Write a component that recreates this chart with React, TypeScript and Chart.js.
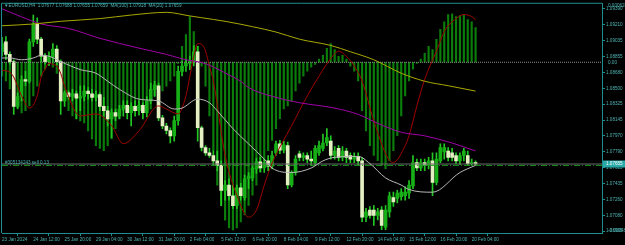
import React, { useEffect, useRef } from 'react';
import { Chart, registerables } from 'chart.js';
Chart.register(...registerables);

const titleText = '\u25BCEURUSD,H4  1.07677 1.07688 1.07655 1.07659  MA(100) 1.07918  MA(20) 1.07659';
const orderText = '#305134243 sell 0.13';

const timeLabels = ['23 Jan 2024', '24 Jan 12:00', '25 Jan 20:00', '29 Jan 04:00', '30 Jan 12:00', '31 Jan 20:00', '2 Feb 04:00', '5 Feb 12:00', '6 Feb 20:00', '8 Feb 04:00', '9 Feb 12:00', '12 Feb 20:00', '14 Feb 04:00', '15 Feb 12:00', '16 Feb 20:00', '20 Feb 04:00'];
const timeTickIdx = [0, 8, 16, 24, 32, 40, 48, 56, 64, 72, 80, 88, 96, 104, 112, 120];
const priceTicks = [1.0939, 1.0921, 1.09035, 1.08855, 1.0868, 1.085, 1.08325, 1.08145, 1.0797, 1.0779, 1.07615, 1.07435, 1.0726, 1.0708, 1.06905];

const opens = [1.0891, 1.0902, 1.0888, 1.0880, 1.0830, 1.0841, 1.0860, 1.0858, 1.0902, 1.0922,
  1.0905, 1.0886, 1.0880, 1.0885, 1.0894, 1.0880, 1.0836, 1.0845, 1.0841, 1.0844,
  1.0839, 1.0841, 1.0847, 1.0844, 1.0840, 1.0843, 1.0830, 1.0825, 1.0816, 1.0823,
  1.0819, 1.0827, 1.0831, 1.0823, 1.0830, 1.0825, 1.0831, 1.0823, 1.0836, 1.0849,
  1.0853, 1.0817, 1.0808, 1.0803, 1.0797, 1.0814, 1.0869, 1.0875, 1.0878, 1.0880,
  1.0891, 1.0806, 1.0784, 1.0778, 1.0775, 1.0769, 1.0764, 1.0736, 1.0742, 1.0730,
  1.0719, 1.0739, 1.0728, 1.0749, 1.0750, 1.0760, 1.0768, 1.0761, 1.0769, 1.0763,
  1.0778, 1.0788, 1.0781, 1.0786, 1.0742, 1.0756, 1.0777, 1.0773, 1.0775, 1.0771,
  1.0767, 1.0778, 1.0783, 1.0789, 1.0791, 1.0775, 1.0783, 1.0773, 1.0780, 1.0775,
  1.0771, 1.0774, 1.0769, 1.0706, 1.0714, 1.0714, 1.0708, 1.0714, 1.0695, 1.0712,
  1.0728, 1.0727, 1.0729, 1.0730, 1.0733, 1.0741, 1.0767, 1.0761, 1.0767, 1.0764,
  1.0769, 1.0745, 1.0769, 1.0779, 1.0780, 1.0778, 1.0775, 1.0769, 1.0775, 1.0775,
  1.0766, 1.0767];
const highs = [1.0907, 1.0908, 1.0891, 1.0882, 1.0845, 1.0864, 1.0869, 1.0905, 1.0932, 1.0929,
  1.0907, 1.0889, 1.0891, 1.0900, 1.0898, 1.0882, 1.0847, 1.0847, 1.0849, 1.0847,
  1.0853, 1.0853, 1.0851, 1.0849, 1.0847, 1.0845, 1.0840, 1.0830, 1.0827, 1.0827,
  1.0831, 1.0836, 1.0836, 1.0834, 1.0836, 1.0836, 1.0834, 1.0841, 1.0856, 1.0858,
  1.0856, 1.0820, 1.0811, 1.0806, 1.0819, 1.0875, 1.0880, 1.0882, 1.0886, 1.0898,
  1.0897, 1.0808, 1.0786, 1.0783, 1.0780, 1.0780, 1.0769, 1.0747, 1.0749, 1.0742,
  1.0742, 1.0744, 1.0753, 1.0756, 1.0764, 1.0772, 1.0773, 1.0771, 1.0775, 1.0780,
  1.0791, 1.0792, 1.0791, 1.0790, 1.0758, 1.0775, 1.0780, 1.0778, 1.0778, 1.0780,
  1.0786, 1.0791, 1.0799, 1.0805, 1.0797, 1.0785, 1.0786, 1.0785, 1.0783, 1.0778,
  1.0778, 1.0778, 1.0773, 1.0716, 1.0718, 1.0719, 1.0716, 1.0718, 1.0719, 1.0734,
  1.0734, 1.0736, 1.0738, 1.0740, 1.0747, 1.0775, 1.0771, 1.0771, 1.0771, 1.0773,
  1.0778, 1.0778, 1.0788, 1.0788, 1.0784, 1.0783, 1.0778, 1.0778, 1.0783, 1.0780,
  1.0771, 1.0769];
const lows = [1.0886, 1.0882, 1.0877, 1.0821, 1.0828, 1.0836, 1.0853, 1.0856, 1.0897, 1.0900,
  1.0880, 1.0877, 1.0876, 1.0880, 1.0876, 1.0821, 1.0830, 1.0838, 1.0836, 1.0816,
  1.0825, 1.0836, 1.0838, 1.0836, 1.0836, 1.0825, 1.0819, 1.0808, 1.0795, 1.0814,
  1.0816, 1.0819, 1.0816, 1.0808, 1.0819, 1.0820, 1.0816, 1.0818, 1.0833, 1.0841,
  1.0814, 1.0805, 1.0799, 1.0789, 1.0791, 1.0809, 1.0864, 1.0869, 1.0871, 1.0875,
  1.0791, 1.0780, 1.0775, 1.0773, 1.0764, 1.0758, 1.0719, 1.0725, 1.0725, 1.0716,
  1.0716, 1.0725, 1.0725, 1.0738, 1.0747, 1.0755, 1.0757, 1.0756, 1.0758, 1.0760,
  1.0775, 1.0777, 1.0778, 1.0738, 1.0740, 1.0753, 1.0769, 1.0769, 1.0767, 1.0764,
  1.0764, 1.0775, 1.0780, 1.0786, 1.0771, 1.0771, 1.0769, 1.0769, 1.0767, 1.0767,
  1.0767, 1.0764, 1.0701, 1.0701, 1.0705, 1.0697, 1.0703, 1.0692, 1.0692, 1.0706,
  1.0718, 1.0722, 1.0725, 1.0725, 1.0727, 1.0738, 1.0758, 1.0758, 1.0758, 1.0760,
  1.0730, 1.0742, 1.0767, 1.0771, 1.0769, 1.0769, 1.0766, 1.0765, 1.0769, 1.0764,
  1.0764, 1.0764];
const closes = [1.0900, 1.0888, 1.0880, 1.0830, 1.0841, 1.0860, 1.0858, 1.0902, 1.0922, 1.0905,
  1.0886, 1.0880, 1.0885, 1.0894, 1.0880, 1.0836, 1.0845, 1.0841, 1.0844, 1.0839,
  1.0841, 1.0847, 1.0844, 1.0840, 1.0843, 1.0830, 1.0825, 1.0816, 1.0823, 1.0819,
  1.0827, 1.0831, 1.0823, 1.0830, 1.0825, 1.0831, 1.0823, 1.0836, 1.0849, 1.0854,
  1.0817, 1.0808, 1.0803, 1.0797, 1.0814, 1.0869, 1.0875, 1.0878, 1.0880, 1.0891,
  1.0806, 1.0784, 1.0778, 1.0775, 1.0769, 1.0764, 1.0736, 1.0742, 1.0730, 1.0719,
  1.0739, 1.0730, 1.0749, 1.0752, 1.0761, 1.0768, 1.0761, 1.0767, 1.0763, 1.0775,
  1.0788, 1.0781, 1.0787, 1.0742, 1.0756, 1.0771, 1.0773, 1.0775, 1.0771, 1.0769,
  1.0783, 1.0786, 1.0789, 1.0795, 1.0775, 1.0780, 1.0773, 1.0780, 1.0773, 1.0771,
  1.0774, 1.0769, 1.0706, 1.0712, 1.0708, 1.0708, 1.0712, 1.0697, 1.0714, 1.0730,
  1.0723, 1.0733, 1.0734, 1.0734, 1.0742, 1.0767, 1.0761, 1.0767, 1.0764, 1.0769,
  1.0745, 1.0771, 1.0784, 1.0784, 1.0773, 1.0773, 1.0769, 1.0775, 1.0780, 1.0766,
  1.0767, 1.07655];

// oscillator histogram, in units of 1e-6
const histMicro = [-40, -54, -77, -112, -135, -146, -140, -126, -97, -69,
  -40, -20, -9, -14, -32, -69, -112, -140, -155, -163,
  -169, -175, -198, -221, -241, -249, -255, -241, -221, -192,
  -163, -140, -126, -126, -135, -140, -146, -146, -135, -97,
  -97, -83, -69, -54, -40, -3, 46, 80, 132, 89,
  46, -11, -69, -155, -255, -355, -413, -456, -478, -484,
  -478, -461, -441, -413, -384, -355, -318, -284, -255, -226,
  -192, -163, -135, -126, -112, -83, -60, -40, -26, -14,
  -6, 9, 20, 40, 54, 37, 17, 20, 9, -11,
  -26, -54, -140, -198, -241, -269, -284, -298, -307, -284,
  -255, -212, -155, -97, -54, -20, -3, 9, 26, 46,
  37, 66, 95, 117, 138, 140, 132, 135, 138, 123,
  117, 100];
const signalIdx = [0, 2, 3, 5, 7, 9, 10, 11, 12, 13, 14, 15, 16, 20, 24, 28, 31, 35, 40, 42, 45, 47, 48, 49, 50, 51, 52, 53, 54, 57, 60, 63, 65, 67, 69, 74, 78, 81, 84, 86, 88, 90, 92, 95, 99, 100, 103, 104, 106, 108, 111, 113, 116, 118, 120, 121];
const signalMicro = [-23, -29, -43, -97, -132, -97, -43, -20, -3, -6, -11, -32, -69, -155, -149, -183, -235, -198, -126, -135, -149, -97, -40, 17, 54, 52, 32, -11, -54, -269, -384, -447, -427, -355, -292, -183, -97, -40, 11, 32, 17, -11, -54, -169, -284, -289, -241, -212, -126, -49, 32, 89, 126, 138, 132, 123];

const maSlowIdx = [0, 8, 15, 25, 33, 42, 48, 51, 57, 64, 70, 76, 84, 89, 95, 102, 108, 114, 121];
const maSlow = [1.0920, 1.0922, 1.0925, 1.0928, 1.0932, 1.0935, 1.0931, 1.0929, 1.0925, 1.0919, 1.0913, 1.0905, 1.0898, 1.0891, 1.0882, 1.0867, 1.0858, 1.0853, 1.0847];
const maMidIdx = [0, 5, 10, 17, 25, 35, 42, 47, 51, 53, 58, 61, 63, 70, 76, 85, 91, 96, 102, 108, 115, 121];
const maMid = [1.0939, 1.0930, 1.0922, 1.0917, 1.0906, 1.0895, 1.0888, 1.0882, 1.0879, 1.0876, 1.0865, 1.0858, 1.0851, 1.0840, 1.0834, 1.0828, 1.0821, 1.0811, 1.0801, 1.0797, 1.0789, 1.0780];
const maFastIdx = [0, 2, 5, 8, 10, 12, 15, 20, 24, 27, 30, 35, 40, 44, 46, 50, 53, 55, 59, 63, 67, 69, 74, 79, 82, 85, 91, 94, 98, 102, 104, 110, 117, 121];
const maFast = [1.0884, 1.0884, 1.0882, 1.0884, 1.0887, 1.0886, 1.0880, 1.0871, 1.0867, 1.0858, 1.0849, 1.0838, 1.0836, 1.0827, 1.0828, 1.0838, 1.0834, 1.0825, 1.0805, 1.0788, 1.0771, 1.0761, 1.0756, 1.0761, 1.0769, 1.0773, 1.0774, 1.0766, 1.0750, 1.0742, 1.0737, 1.0734, 1.0756, 1.0764];

const bidPrice = 1.07655;
const orderPrice = 1.0764;
const histTopText = '0.000628';
const histBottomText = '-0.000487';

const X_MAX = 153.3;
const AXIS = '#1f8d8d';
const TXT = '#4fb3b3';
const FONT = '"Liberation Sans", Arial, sans-serif';

function pts(idx: number[], vals: number[]) {
  return idx.map((x, k) => ({ x, y: vals[k] }));
}

export default function App() {
  const ref = useRef<HTMLCanvasElement | null>(null);
  useEffect(() => {
    document.body.style.margin = '0';
    document.body.style.background = '#000';
    const canvas = ref.current!;
    const n = opens.length;
    const idx = Array.from({ length: n }, (_, i) => i);
    const bull = idx.map((i) => closes[i] >= opens[i]);

    const overlay = {
      id: 'overlay',
      beforeDraw(chart: any) {
        const c = chart.ctx;
        c.save();
        c.fillStyle = '#000';
        c.fillRect(0, 0, chart.width, chart.height);
        c.restore();
      },
      afterDraw(chart: any) {
        const c = chart.ctx;
        const a = chart.chartArea;
        const y = chart.scales.y;
        const h = chart.scales.h;
        c.save();
        c.strokeStyle = AXIS;
        c.lineWidth = 1;
        c.beginPath();
        c.moveTo(a.left - 0.5, a.bottom);
        c.lineTo(a.left - 0.5, a.top - 0.5);
        c.lineTo(a.right, a.top - 0.5);
        c.stroke();
        c.font = `4.6px ${FONT}`;
        c.fillStyle = TXT;
        c.textBaseline = 'top';
        c.textAlign = 'left';
        c.fillText(titleText, 4, 3);
        const oy = y.getPixelForValue(orderPrice);
        c.textBaseline = 'bottom';
        c.fillText(orderText, 5, oy - 0.5);
        c.textBaseline = 'middle';
        c.fillText(histTopText, a.right + 6, h.getPixelForValue(h.max) + 2);
        c.fillText('0.00', a.right + 6, h.getPixelForValue(0));
        c.fillText(histBottomText, a.right + 6, h.getPixelForValue(h.min) - 2);
        const by = y.getPixelForValue(bidPrice);
        c.fillStyle = '#2aa9a9';
        c.fillRect(a.right + 1, by - 3.5, chart.width - a.right - 1, 7);
        c.fillStyle = '#ffffff';
        c.fillText(bidPrice.toFixed(5), a.right + 4, by);
        c.restore();
      },
    };

    const chart = new Chart(canvas, {
      type: 'bar',
      data: {
        datasets: [
          {
            type: 'line', label: 'MA slow', data: pts(maSlowIdx, maSlow), yAxisID: 'y',
            borderColor: '#a8a800', borderWidth: 1, pointRadius: 0, cubicInterpolationMode: 'monotone', order: 1,
          } as any,
          {
            type: 'line', label: 'MA mid', data: pts(maMidIdx, maMid), yAxisID: 'y',
            borderColor: '#a000a8', borderWidth: 1, pointRadius: 0, cubicInterpolationMode: 'monotone', order: 1,
          } as any,
          {
            type: 'line', label: 'MA fast', data: pts(maFastIdx, maFast), yAxisID: 'y',
            borderColor: '#b8b8b8', borderWidth: 1, pointRadius: 0, cubicInterpolationMode: 'monotone', order: 1,
          } as any,
          {
            type: 'line', label: 'signal', data: pts(signalIdx, signalMicro), yAxisID: 'h',
            borderColor: '#a00000', borderWidth: 1, pointRadius: 0, cubicInterpolationMode: 'monotone', order: 1,
          } as any,
          {
            type: 'line', label: 'bid', data: [{ x: 0, y: bidPrice }, { x: X_MAX, y: bidPrice }], yAxisID: 'y',
            borderColor: '#6a6a6a', borderWidth: 1, pointRadius: 0, order: 3,
          } as any,
          {
            type: 'line', label: 'order', data: [{ x: 0, y: orderPrice }, { x: X_MAX, y: orderPrice }], yAxisID: 'y',
            borderColor: '#16a016', borderWidth: 1, borderDash: [6, 2, 1, 2], pointRadius: 0, order: 3,
          } as any,
          {
            type: 'line', label: 'zero', data: [{ x: 0, y: 0 }, { x: X_MAX, y: 0 }], yAxisID: 'h',
            borderColor: '#8a8a8a', borderWidth: 1, borderDash: [1, 1], pointRadius: 0, order: 4,
          } as any,
          {
            label: 'bodies', data: idx.map((i) => ({ x: i, y: [opens[i], closes[i]] })), yAxisID: 'y',
            backgroundColor: idx.map((i) => (bull[i] ? '#16b016' : '#e4efc2')),
            borderColor: '#22c822', borderWidth: 0, barThickness: 3, minBarLength: 1, grouped: false, order: 6,
          } as any,
          {
            label: 'wicks', data: idx.map((i) => ({ x: i, y: [lows[i], highs[i]] })), yAxisID: 'y',
            backgroundColor: '#22c822', barThickness: 1, grouped: false, order: 7,
          } as any,
          {
            label: 'hist', data: idx.map((i) => ({ x: i, y: histMicro[i] })), yAxisID: 'h',
            backgroundColor: '#0b7d0b', barThickness: 1.5, grouped: false, order: 10,
          } as any,
        ],
      },
      options: {
        animation: false,
        responsive: false,
        devicePixelRatio: 1,
        events: [],
        layout: { padding: { left: 2, top: 2, right: 0, bottom: 0 } },
        plugins: { legend: { display: false }, tooltip: { enabled: false } },
        scales: {
          x: {
            type: 'linear', min: 0, max: X_MAX, offset: false,
            grid: { display: true, drawOnChartArea: false, drawTicks: true, tickLength: 3, color: AXIS, tickColor: AXIS },
            border: { display: true, color: AXIS, width: 1 },
            afterBuildTicks: (s: any) => { s.ticks = timeTickIdx.map((v) => ({ value: v })); },
            afterFit: (s: any) => { s.height = 12; },
            ticks: {
              autoSkip: false, maxRotation: 0, minRotation: 0, align: 'start', padding: 1,
              color: TXT, font: { family: FONT, size: 4.6 },
              callback: (v: any) => timeLabels[timeTickIdx.indexOf(Number(v))] ?? '',
            },
          },
          y: {
            type: 'linear', position: 'right', min: 1.06884, max: 1.09446,
            grid: { display: true, drawOnChartArea: false, drawTicks: true, tickLength: 3, color: AXIS, tickColor: AXIS },
            border: { display: true, color: AXIS, width: 1 },
            afterBuildTicks: (s: any) => { s.ticks = priceTicks.map((v) => ({ value: v })); },
            afterFit: (s: any) => { s.width = 23; },
            ticks: {
              autoSkip: false, padding: 1, color: TXT, font: { family: FONT, size: 4.6 },
              callback: (v: any) => Number(v).toFixed(5),
            },
          },
          h: {
            type: 'linear', display: false, min: -493, max: 169,
          },
        },
      } as any,
      plugins: [overlay],
    });
    return () => chart.destroy();
  }, []);
  return (
    <div style={{ width: 625, height: 245, background: '#000' }}>
      <canvas ref={ref} width={625} height={245} style={{ display: 'block' }} />
    </div>
  );
}
